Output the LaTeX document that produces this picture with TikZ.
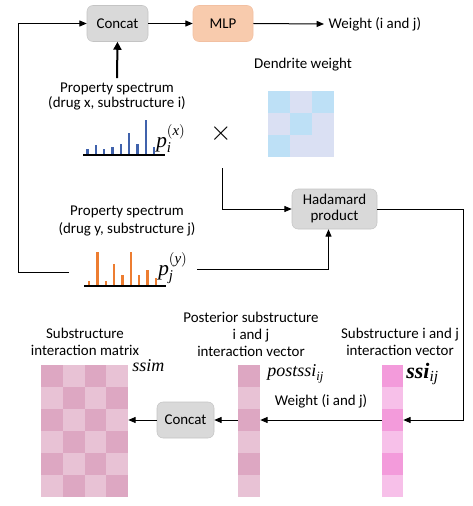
\documentclass[tikz,border=0pt]{standalone}
\usepackage{amsmath}
\usepackage{fontspec}
\setmainfont{Carlito}
\newfontfamily\tms{Liberation Serif}
\usetikzlibrary{arrows.meta,calc}

\definecolor{opgray}{RGB}{217,217,217}
\definecolor{opedge}{RGB}{196,196,196}
\definecolor{mlpfill}{RGB}{248,203,173}
\definecolor{mlpedge}{RGB}{242,192,162}
\definecolor{specblue}{RGB}{64,98,172}
\definecolor{specorange}{RGB}{237,125,49}
\definecolor{dwblue}{RGB}{189,224,246}
\definecolor{dwlav}{RGB}{218,224,243}
\definecolor{simdark}{RGB}{221,167,194}
\definecolor{simlight}{RGB}{232,194,213}
\definecolor{ssidark}{RGB}{243,155,219}
\definecolor{ssilight}{RGB}{247,192,233}

\newcommand{\vit}[1]{\text{\tms\itshape #1}}

\begin{document}
\begin{tikzpicture}[x=0.75pt,y=-0.75pt,
  txt/.style={font=\fontsize{11.2}{13.5}\selectfont, align=center},
  opbox/.style={txt, draw=opedge, fill=opgray, rounded corners=4.5pt, inner sep=0pt},
  conn/.style={-{Triangle[length=5.5pt,width=4.5pt]}, line width=0.75pt},
  bar/.style={line width=1.8pt},
  mathlab/.style={anchor=base west, inner sep=0pt}]
  \useasboundingbox (0,0) rectangle (473,506);

  % top row
  \node[opbox, minimum width=45.75pt, minimum height=27pt] (cat1) at (117.5,23.5) {Concat};
  \node[opbox, draw=mlpedge, fill=mlpfill, minimum width=45pt, minimum height=27pt] (mlp) at (223,23.5) {MLP};
  \node[txt, anchor=west] (wtop) at (324,24) {Weight (i and j)};

  % spectrum of drug x
  \node[txt, font=\fontsize{11.2}{11.5}\selectfont] (propx) at (117,96.5) {Property spectrum\\(drug x, substructure i)};
  \foreach \bx/\bh in {87.5/5.7, 95.8/10, 104.2/5.7, 112.5/8.3, 120.8/10.7, 129.2/21.7, 137.5/10.7, 145.8/35, 154.2/8.3}
    \draw[bar, specblue] (\bx,155) -- ++(0,-\bh);
  \draw[line width=1.2pt] (83,155) -- (165,155);
  \node[mathlab, font=\fontsize{16}{16}\selectfont] (px) at (156,147) {$\vit{p}_{\vit{i}}^{(\vit{x})}$};

  % dendrite weight
  \node[txt] (dwlabel) at (303,65) {Dendrite weight};
  \foreach \r/\c/\cc in {0/0/dwblue,0/1/dwlav,0/2/dwblue,1/0/dwlav,1/1/dwblue,1/2/dwlav,2/0/dwblue,2/1/dwlav,2/2/dwlav}
    \fill[\cc] (268+22*\c,91+22*\r) rectangle ++(22,22);
  \node[font=\fontsize{20}{20}\selectfont] (times) at (221,134) {$\times$};

  \node[opbox, minimum width=63.75pt, minimum height=30pt, font=\fontsize{11.2}{12}\selectfont] (hada) at (334.5,209) {Hadamard\\product};

  % spectrum of drug y
  \node[txt] (propy) at (127,221) {Property spectrum\\(drug y, substructure j)};
  \foreach \bx/\bh in {89/5, 97.3/34.3, 105.7/5, 114/21.7, 122.3/11, 130.7/34.3, 139/11, 147.3/16, 155.7/7.7}
    \draw[bar, specorange] (\bx,286) -- ++(0,-\bh);
  \draw[line width=1.2pt] (84,286) -- (166,286);
  \node[mathlab, font=\fontsize{16}{16}\selectfont] (py) at (158,275) {$\vit{p}_{\vit{j}}^{(\vit{y})}$};
  \coordinate (yleft) at (69,272);
  \coordinate (yright) at (197,269);

  % bottom row
  \foreach \r in {0,...,5} {
    \foreach \c in {0,...,3} {
      \pgfmathtruncatemacro\k{\r+\c}
      \ifodd\k \def\cc{simlight}\else\def\cc{simdark}\fi
      \fill[\cc] (41+21.75*\c,365+22*\r) rectangle ++(21.75,22);
    }
    \ifodd\r \def\cc{simlight}\def\cd{ssilight}\else\def\cc{simdark}\def\cd{ssidark}\fi
    \fill[\cc] (238,365+22*\r) rectangle ++(22,22);
    \fill[\cd] (382,365+22*\r) rectangle ++(21,22);
  }
  \node[minimum width=65.25pt, minimum height=99pt, inner sep=0pt] (ssim) at (84.5,431) {};
  \node[minimum width=16.5pt, minimum height=99pt, inner sep=0pt] (post) at (249,431) {};
  \node[minimum width=15.75pt, minimum height=99pt, inner sep=0pt] (ssi) at (392.5,431) {};

  \node[txt, font=\fontsize{11.2}{12.75}\selectfont] (ssimlabel) at (85,341.5) {Substructure\\interaction matrix};
  \node[txt, font=\fontsize{11.2}{12.75}\selectfont] (postlabel) at (251,334) {Posterior substructure\\i and j\\interaction vector};
  \node[txt, font=\fontsize{11.2}{12.75}\selectfont] (ssilabel) at (400,342) {Substructure i and j\\interaction vector};
  \node[mathlab, font=\fontsize{13.5}{13.5}\selectfont] (ssimname) at (132,371) {\tms\itshape ssim};
  \node[mathlab, font=\fontsize{13.5}{13.5}\selectfont] (postname) at (267,376) {$\vit{postssi}_{\vit{ij}}$};
  \node[mathlab, font=\fontsize{16.5}{16.5}\selectfont] (ssiname) at (406,378) {$\text{\tms\bfseries\itshape ssi}_{\vit{ij}}$};

  \node[opbox, minimum width=42.75pt, minimum height=27pt] (cat2) at (185.5,420) {Concat};

  % connectors
  \draw[conn] (cat1.east) -- (mlp.west);
  \draw[conn] (mlp.east) -- (wtop.west);
  \draw[conn, line width=1.5pt, -{Triangle[length=6pt,width=6pt]}] (propx.north) -- (cat1.south);
  \draw[conn] (yleft) -- ++(-51,0) |- (cat1.west);
  \draw[conn] ($(times)+(1,34)$) |- (hada.west);
  \draw[conn] (yright) -| ($(hada.south)+(-6,0)$);
  \draw[conn] (hada.east) -- ++(86,0) |- ($(ssi.east)+(0,-11)$);
  \draw[conn] ($(ssi.west)+(0,-11)$) -- node[txt, above=5pt] (wbot) {Weight (i and j)} ($(post.east)+(0,-11)$);
  \draw[conn] ($(post.west)+(0,-11)$) -- (cat2.east);
  \draw[conn] (cat2.west) -- ($(ssim.east)+(0,-11)$);
\end{tikzpicture}
\end{document}
